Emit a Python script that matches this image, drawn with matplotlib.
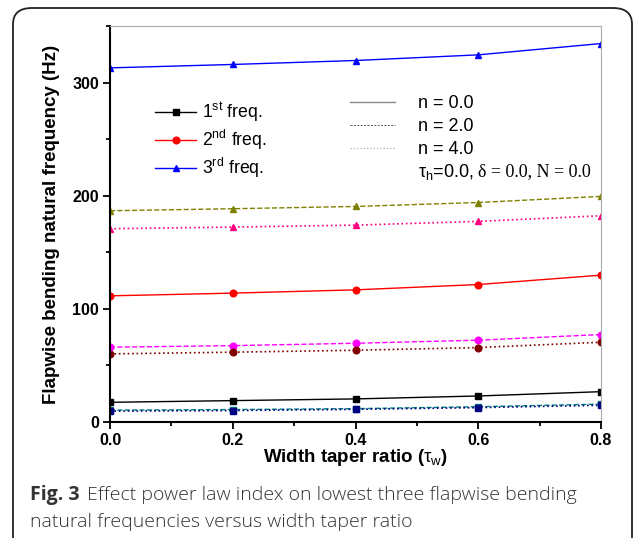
import matplotlib
matplotlib.use('Agg')
import matplotlib.pyplot as plt
from matplotlib.lines import Line2D
from matplotlib.patches import FancyBboxPatch
from matplotlib.ticker import MultipleLocator

plt.rcParams['font.family'] = ['Liberation Sans', 'DejaVu Sans']
plt.rcParams['mathtext.fontset'] = 'custom'
plt.rcParams['mathtext.rm'] = 'Liberation Sans'
plt.rcParams['mathtext.it'] = 'Liberation Sans:italic'
plt.rcParams['mathtext.bf'] = 'Liberation Sans:bold'

# ===== Data =====
tau_w = [0.0, 0.2, 0.4, 0.6, 0.8]
xtick_vals = [0.0, 0.2, 0.4, 0.6, 0.8]
xtick_labels = ['0.0', '0.2', '0.4', '0.6', '0.8']
ytick_vals = [0, 100, 200, 300]
ytick_labels = ['0', '100', '200', '300']

# 1st freq.
f1_n0 = [17.4, 18.9, 20.4, 23.0, 26.8]
f1_n2 = [10.5, 11.0, 11.8, 13.5, 15.8]
f1_n4 = [9.6, 10.1, 11.2, 12.7, 14.8]
# 2nd freq.
f2_n0 = [111.5, 113.9, 116.8, 121.5, 129.8]
f2_n2 = [66.1, 67.5, 69.6, 72.3, 77.3]
f2_n4 = [60.2, 61.7, 63.4, 65.8, 70.5]
# 3rd freq.
f3_n0 = [313.0, 316.0, 319.5, 324.5, 334.5]
f3_n2 = [186.7, 188.5, 190.5, 194.0, 199.4]
f3_n4 = [170.8, 172.3, 174.0, 177.3, 182.3]

mode_labels = ['1$^{\\mathrm{st}}$ freq.', '2$^{\\mathrm{nd}}$ freq.', '3$^{\\mathrm{rd}}$ freq.']
n_labels = ['n = 0.0', 'n = 2.0', 'n = 4.0']

# ===== Figure =====
fig = plt.figure(figsize=(6.34, 5.38), dpi=100)

# rounded frame of the screenshot
frame = FancyBboxPatch((13 / 634, -0.05), 619 / 634, 1 - 8 / 538 + 0.05,
                       boxstyle='round,pad=0,rounding_size=0.03',
                       transform=fig.transFigure, fill=False,
                       edgecolor='#222222', linewidth=1.3)
fig.patches.append(frame)

ax = fig.add_axes([110 / 634, 1 - 422 / 538, 491 / 634, 396 / 538])

ms = 4.8
ax.plot(tau_w, f1_n0, '-', color='k', marker='s', ms=ms, lw=1)
ax.plot(tau_w, f1_n2, '--', color='#008080', marker='s', ms=ms, lw=1)
ax.plot(tau_w, f1_n4, ':', color='#000080', marker='s', ms=ms, lw=1.2)

ax.plot(tau_w, f2_n0, '-', color='#FF0000', marker='o', ms=ms, lw=1)
ax.plot(tau_w, f2_n2, '--', color='#FF00FF', marker='o', ms=ms, lw=1)
ax.plot(tau_w, f2_n4, ':', color='#800000', marker='o', ms=ms, lw=1.2)

ax.plot(tau_w, f3_n0, '-', color='#0000FF', marker='^', ms=ms, lw=1)
ax.plot(tau_w, f3_n2, '--', color='#808000', marker='^', ms=ms, lw=1)
ax.plot(tau_w, f3_n4, ':', color='#FF0080', marker='^', ms=ms, lw=1.2)

ax.set_xlim(0, 0.8)
ax.set_ylim(0, 350)
ax.set_xticks(xtick_vals, xtick_labels, fontweight='bold', fontsize=11.5)
ax.set_yticks(ytick_vals, ytick_labels, fontweight='bold', fontsize=11.5)
ax.xaxis.set_minor_locator(MultipleLocator(0.1))
ax.yaxis.set_minor_locator(MultipleLocator(50))

for s in ['left', 'bottom']:
    ax.spines[s].set_linewidth(1.5)
    ax.spines[s].set_color('k')
for s in ['top', 'right']:
    ax.spines[s].set_linewidth(0.8)
    ax.spines[s].set_color('#aaaaaa')

ax.tick_params(which='both', direction='out', top=False, right=False, width=1.3)
ax.tick_params(which='major', length=5, pad=3)
ax.tick_params(which='minor', length=3)

ax.set_ylabel('Flapwise bending natural frequency (Hz)', fontsize=13.5, fontweight='bold', labelpad=9)
ax.set_xlabel('Width taper ratio ($\\mathrm{τ}_\\mathrm{w}$)', fontsize=13.5, fontweight='bold', labelpad=-1)

# legend of modes
mode_handles = [Line2D([], [], color='k', marker='s', ms=ms, lw=1),
                Line2D([], [], color='#FF0000', marker='o', ms=ms, lw=1),
                Line2D([], [], color='#0000FF', marker='^', ms=ms, lw=1)]
leg1 = ax.legend(mode_handles, mode_labels, loc='upper left', bbox_to_anchor=(0.092, 0.811),
                 frameon=False, fontsize=12.7, handlelength=2.33, labelspacing=0.2,
                 handletextpad=0.35, borderaxespad=0, borderpad=0)
ax.add_artist(leg1)

# legend of power law index
n_handles = [Line2D([], [], color='#888888', ls='-', lw=1),
             Line2D([], [], color='#555555', ls='--', lw=0.7, dashes=(2, 1.5)),
             Line2D([], [], color='#b0b0b0', ls=':', lw=0.9)]
ax.legend(n_handles, n_labels, loc='upper left', bbox_to_anchor=(0.489, 0.825),
          frameon=False, fontsize=13, handlelength=2.5, labelspacing=0.33,
          handletextpad=1.28, borderaxespad=0, borderpad=0)

t1 = ax.text(0.627, 0.632, '$\\mathrm{τ}_\\mathrm{h}$=0.0,', transform=ax.transAxes,
             fontsize=13, va='center', ha='left', family='Liberation Sans')
ax.annotate('δ = 0.0, N = 0.0', xy=(1, 0.5), xycoords=t1, xytext=(3.5, 0),
            textcoords='offset points', fontsize=13, va='center', ha='left',
            family='Liberation Serif')

# caption
fig.text(30 / 634, 1 - 495 / 538, 'Fig. 3', fontsize=14, fontweight='bold',
         family='Open Sans', color='#333333', va='center')
fig.text(87 / 634, 1 - 495 / 538, 'Effect power law index on lowest three flapwise bending',
         fontsize=14, family='Open Sans', fontweight='light', color='#333333', va='center')
fig.text(30 / 634, 1 - 522 / 538, 'natural frequencies versus width taper ratio',
         fontsize=14, family='Open Sans', fontweight='light', color='#333333', va='center')

fig.savefig('out.png', dpi=100)
plt.close(fig)
